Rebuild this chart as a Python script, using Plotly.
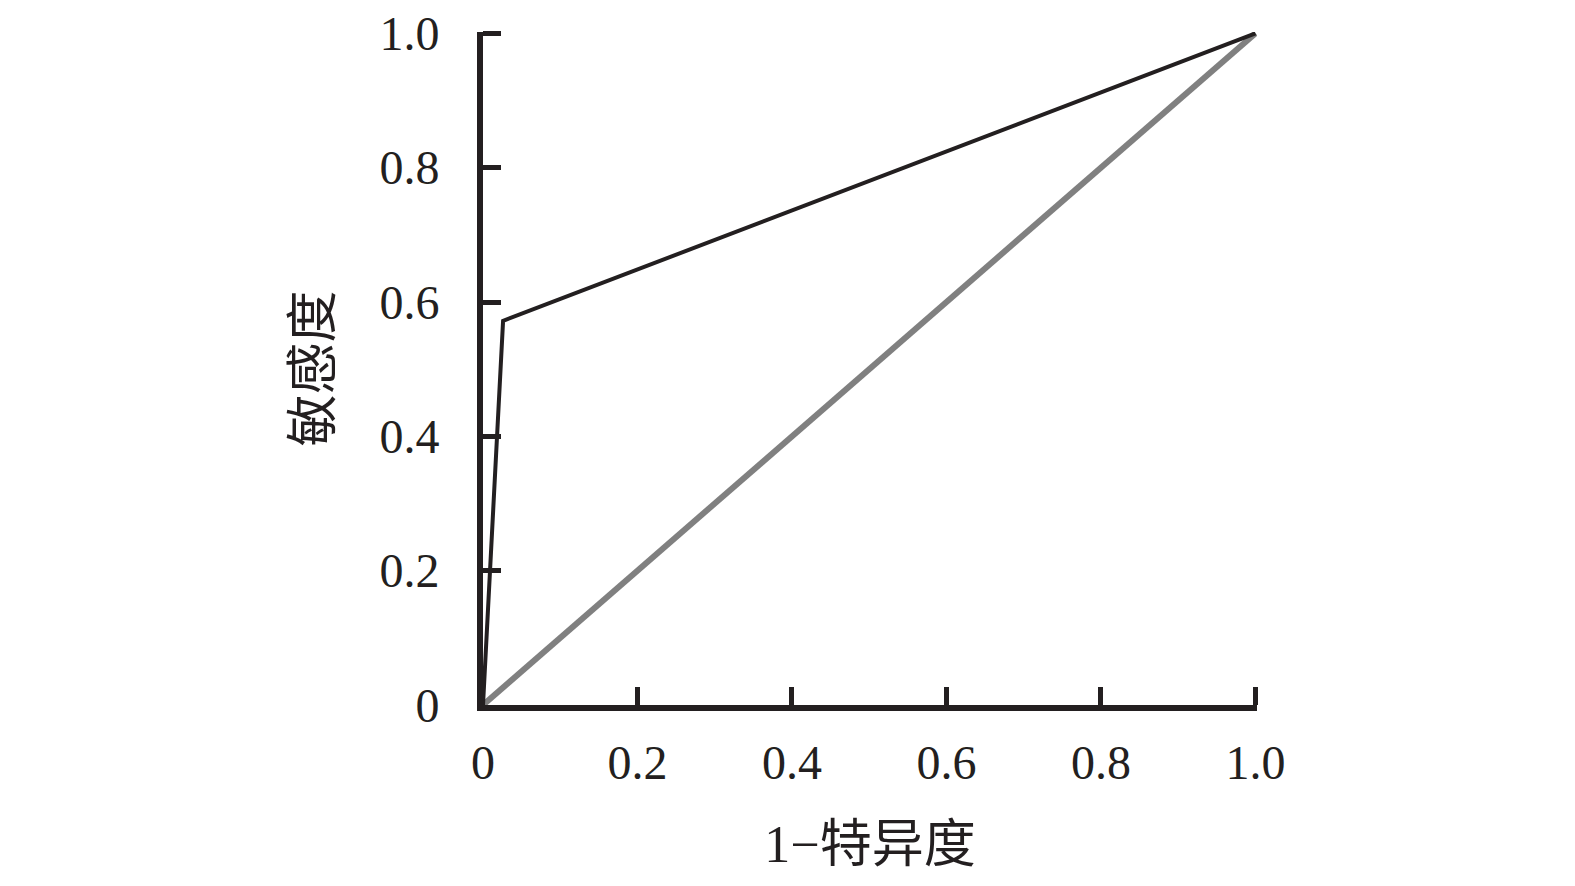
import plotly.graph_objects as go

roc_x = [0, 0.026, 1.0]
roc_y = [0, 0.572, 1.0]
diag_x = [0, 1.0]
diag_y = [0, 1.0]
tick_vals = [0, 0.2, 0.4, 0.6, 0.8, 1.0]
tick_text = ["0", "0.2", "0.4", "0.6", "0.8", "1.0"]

font_fam = "Liberation Serif, Noto Sans CJK SC, serif"
ink = "#231f20"

fig = go.Figure()
fig.add_trace(go.Scatter(x=diag_x, y=diag_y, mode="lines",
                         line=dict(color="#808080", width=6), cliponaxis=False,
                         showlegend=False))
fig.add_trace(go.Scatter(x=roc_x, y=roc_y, mode="lines",
                         line=dict(color=ink, width=4), cliponaxis=False,
                         showlegend=False))

axis_common = dict(tickvals=tick_vals, ticktext=tick_text,
                   showgrid=False, zeroline=False, showline=True,
                   linecolor=ink, linewidth=6, ticks="inside",
                   ticklen=18, tickwidth=5, tickcolor=ink, automargin=False,
                   ticklabeloverflow="allow",
                   tickfont=dict(family=font_fam, size=48, color=ink))

fig.update_xaxes(**axis_common, range=[0, 1.002], ticklabelstandoff=10,
                 title=dict(text="1−特异度", standoff=40,
                            font=dict(family=font_fam, size=52, color=ink)))
fig.update_yaxes(**axis_common, range=[0, 1.002], ticklabelstandoff=28,
                 title=dict(text="敏感度", standoff=33,
                            font=dict(family=font_fam, size=52, color=ink)))

fig.update_layout(width=1575, height=886,
                  margin=dict(l=475, r=326, t=24, b=189),
                  plot_bgcolor="white", paper_bgcolor="white")

fig.write_html("out.html")
